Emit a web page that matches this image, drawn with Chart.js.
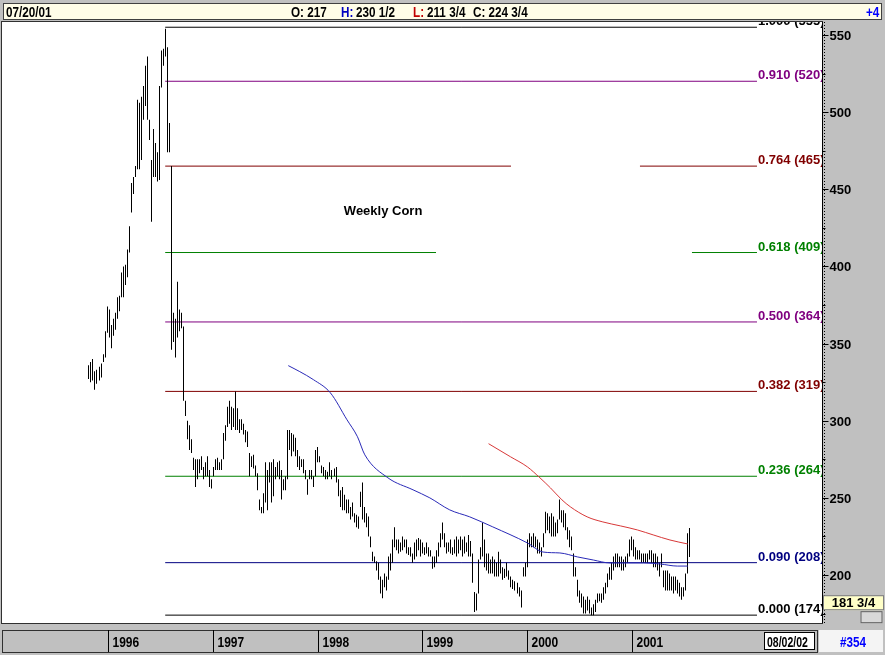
<!DOCTYPE html>
<html>
<head>
<meta charset="utf-8">
<script src="https://cdn.jsdelivr.net/npm/chart.js@4.4.0/dist/chart.umd.min.js"></script>
<style>
  body { margin: 0; background: #c0c0c0; }
  canvas { display: block; }
</style>
</head>
<body>
<canvas id="chart" width="885" height="655"></canvas>
<script>
// weekly corn bars, one per week from Fri 1995-10-27 to Fri 2001-07-20
const firstWeek = Date.UTC(1995, 9, 27);

const weekLows = [
  327,325,326,320,324,326,328,338,341,357,
  354,347,355,359,366,371,380,380,388,393,
  409,435,447,458,463,463,469,495,504,495,
  482,429,458,458,455,456,516,530,536,474,
  474,346,351,341,354,358,360,313,303,
  288,281,279,268,257,262,266,268,262,264,
  264,257,256,264,268,268,268,268,275,287,
  296,298,294,296,294,294,292,294,291,286,
  283,264,270,269,264,255,242,240,240,247,
  242,260,247,251,262,264,262,249,255,255,
  262,281,277,280,277,270,268,270,266,262,
  252,262,262,257,264,273,273,266,264,262,
  262,264,262,264,260,251,244,242,242,240,
  240,236,238,234,231,230,244,236,234,231,
  225,218,209,208,203,197,188,185,192,190,
  197,203,208,218,216,214,215,216,218,214,
  213,212,208,210,212,216,212,214,213,214,
  212,212,204,205,208,212,218,223,218,214,
  215,214,213,214,212,214,216,212,214,215,
  212,212,195,176,177,188,210,212,205,203,
  201,201,201,199,199,199,201,197,198,199,
  197,192,191,190,188,186,179,199,199,205,
  218,218,218,218,214,214,212,218,227,229,
  227,225,225,225,227,236,234,231,229,223,
  218,216,199,199,186,182,179,175,175,177,
  175,174,174,176,182,183,182,184,188,192,
  197,197,203,205,205,205,203,203,205,208,
  212,216,212,210,210,210,208,208,208,208,
  210,208,205,205,203,199,205,192,190,190,
  190,190,188,190,188,186,184,186,190,201,
  211.75
];

const weekHighs = [
  336,338,340,332,333,335,337,343,358,374,
  372,362,366,370,380,381,396,400,401,411,
  426,454,458,465,508,506,510,517,530,536,
  495,469,489,480,474,517,540,541,554,542,
  493,465,370,366,390,372,370,361,313,
  300,297,288,276,275,275,275,277,270,273,
  277,268,262,270,275,276,273,275,292,297,
  309,313,309,308,319,308,301,301,298,294,
  293,279,277,278,271,266,249,244,253,273,
  268,273,273,275,270,273,274,268,262,264,
  294,294,292,291,289,281,277,275,275,268,
  262,268,268,264,281,283,277,271,270,268,
  267,273,268,269,270,262,255,257,252,249,
  249,244,247,240,239,238,254,260,244,240,
  238,225,215,212,209,208,199,197,201,199,
  212,214,223,231,223,223,221,225,223,223,
  218,218,214,221,223,224,223,221,218,221,
  218,216,212,212,216,221,227,234,227,221,
  221,223,218,223,225,223,225,223,225,221,
  226,222,214,189,188,210,218,234,223,214,
  214,210,212,210,208,215,210,205,204,208,
  203,199,197,196,195,192,190,205,208,223,
  227,225,227,225,223,221,218,227,241,240,
  238,240,238,234,236,249,242,242,240,231,
  229,225,214,205,197,190,188,186,184,186,
  184,179,181,184,188,188,188,192,195,201,
  205,208,212,214,214,212,212,210,212,214,
  223,225,223,218,216,216,214,214,214,214,
  216,216,214,214,212,208,214,203,203,203,
  201,199,199,199,197,195,192,192,201,227,
  230.5
];

// moving averages (decimal year, price)
const blueYears  = [1997.72,1997.83,1997.96,1998.12,1998.28,1998.38,1998.45,1998.67,1998.91,1999.07,1999.26,1999.45,1999.67,2000.00,2000.15,2000.31,2000.48,2000.63,2000.79,2000.95,2001.11,2001.27,2001.43,2001.53];
const blueValues = [335.7,331.8,326.6,318.2,300.6,289.6,277.9,263.0,255.2,250.0,242.2,237.7,231.2,220.8,214.9,214.3,211.7,209.7,207.8,207.8,207.8,207.1,205.8,205.8];
const redYears   = [1999.63,1999.84,2000.00,2000.12,2000.22,2000.33,2000.41,2000.57,2000.72,2000.89,2001.05,2001.20,2001.36,2001.53];
const redValues  = [285.1,276.6,270.1,263.0,256.5,248.7,244.2,237.7,234.4,231.8,229.2,226.0,222.7,220.1];

// fibonacci retracement levels
const fibRatios = ['1.000','0.910','0.764','0.618','0.500','0.382','0.236','0.090','0.000'];
const fibPrices = [555,520,465,409,364,319,264,208,174];
const fibColors = ['#000000','#800080','#800000','#008000','#800080','#800000','#008000','#000080','#000000'];
const fibEnd = 2002.19;
const fibGaps = { 2: [1999.844, 2001.074], 3: [1999.129, 2001.570] };

const yearTicks = [1996, 1997, 1998, 1999, 2000, 2001];
const priceTicks = [200, 250, 300, 350, 400, 450, 500, 550];
const chartTitle = 'Weekly Corn';
const header = { date: '07/20/01', open: '217', high: '230 1/2', low: '211 3/4', close: '224 3/4', change: '+4' };
const cursorPrice = 181.75;
const cursorLabel = '181 3/4';
const footerDate = '08/02/02';
const footerCount = '#354';

function weekYear(i) {
  const t = firstWeek + i * 7 * 864e5;
  const yr = new Date(t).getUTCFullYear();
  const y0 = Date.UTC(yr, 0, 1), y1 = Date.UTC(yr + 1, 0, 1);
  return yr + (t - y0) / (y1 - y0);
}

const bars = weekLows.map((lo, i) => ({ x: weekYear(i), y: [lo, weekHighs[i]] }));
const peakIndex = weekHighs.indexOf(Math.max(...weekHighs));
const fibStart = weekYear(peakIndex);

const fibSets = fibPrices.map((p, i) => {
  let pts = [{ x: fibStart, y: p }, { x: fibEnd, y: p }];
  if (fibGaps[i]) {
    const [g0, g1] = fibGaps[i];
    pts = [{ x: fibStart, y: p }, { x: g0, y: p }, { x: (g0 + g1) / 2, y: null }, { x: g1, y: p }, { x: fibEnd, y: p }];
  }
  return { type: 'line', data: pts, borderColor: fibColors[i], borderWidth: 1, pointRadius: 0, order: 3, spanGaps: false };
});

const sans = '"Liberation Sans", Arial, sans-serif';

// condensed text: squeeze a normal face horizontally
function narrowText(ctx, text, x, y, squeeze) {
  ctx.save();
  ctx.translate(x, y);
  ctx.scale(squeeze, 1);
  ctx.fillText(text, 0, 0);
  ctx.restore();
}

const chrome = {
  id: 'chrome',
  beforeDraw(chart) {
    const { ctx, chartArea: a } = chart;
    ctx.save();
    ctx.fillStyle = '#c0c0c0';
    ctx.fillRect(0, 0, chart.width, chart.height);
    ctx.fillStyle = '#ffffff';
    ctx.fillRect(a.left, a.top, a.right - a.left, a.bottom - a.top);
    ctx.restore();
  },
  beforeDatasetsDraw(chart) {
    // snap the 1px price bars onto whole pixels so they stay crisp
    chart.getDatasetMeta(0).data.forEach(el => { el.x = Math.floor(el.x) + 0.5; });
  },
  afterDatasetsDraw(chart) {
    const { ctx, chartArea: a, scales: { x, y } } = chart;
    ctx.save();
    ctx.beginPath();
    ctx.rect(a.left, a.top, a.right - a.left, a.bottom - a.top);
    ctx.clip();
    ctx.font = 'bold 13px ' + sans;
    ctx.textBaseline = 'alphabetic';
    fibRatios.forEach((r, i) => {
      ctx.fillStyle = fibColors[i];
      ctx.fillText(r + ' (' + fibPrices[i] + ')', x.getPixelForValue(fibEnd) + 1, y.getPixelForValue(fibPrices[i]) - 2);
    });
    ctx.fillStyle = '#000';
    ctx.textBaseline = 'middle';
    ctx.fillText(chartTitle, x.getPixelForValue(1998.25), y.getPixelForValue(435.5));
    ctx.restore();

    ctx.save();
    // plot frame
    ctx.strokeStyle = '#303030';
    ctx.lineWidth = 1;
    ctx.strokeRect(a.left - 0.5, a.top - 0.5, a.right - a.left + 1, a.bottom - a.top + 1);

    // header bar
    ctx.fillStyle = '#fffde8';
    ctx.fillRect(3, 3, 879, 17);
    ctx.strokeStyle = '#404040';
    ctx.strokeRect(3.5, 3.5, 878, 16);
    ctx.font = 'bold 15px ' + sans;
    ctx.textBaseline = 'alphabetic';
    const hy = 17, sq = 0.78;
    ctx.fillStyle = '#000';
    narrowText(ctx, header.date, 6, hy, sq);
    narrowText(ctx, 'O: ' + header.open, 291, hy, sq);
    ctx.fillStyle = '#0000c0'; narrowText(ctx, 'H:', 341, hy, sq);
    ctx.fillStyle = '#000'; narrowText(ctx, header.high, 356, hy, sq);
    ctx.fillStyle = '#c00000'; narrowText(ctx, 'L:', 413, hy, sq);
    ctx.fillStyle = '#000'; narrowText(ctx, header.low, 427, hy, sq);
    narrowText(ctx, 'C: ' + header.close, 473, hy, sq);
    ctx.fillStyle = '#0000ff'; narrowText(ctx, header.change, 866, hy, sq);

    // right price axis
    const px = a.right + 0.5;
    ctx.strokeStyle = '#000';
    ctx.beginPath(); ctx.moveTo(px, a.top); ctx.lineTo(px, a.bottom); ctx.stroke();
    ctx.setLineDash([1, 2]);
    ctx.beginPath(); ctx.moveTo(px + 2, a.top); ctx.lineTo(px + 2, a.bottom); ctx.stroke();
    ctx.setLineDash([]);
    ctx.font = 'bold 13px ' + sans;
    ctx.textBaseline = 'middle';
    ctx.fillStyle = '#000';
    for (let v = 175; v <= 550; v += 25) {
      const py = Math.round(y.getPixelForValue(v)) + 0.5;
      const major = priceTicks.includes(v);
      ctx.beginPath(); ctx.moveTo(px, py); ctx.lineTo(px + (major ? 6 : 3), py); ctx.stroke();
      if (major) ctx.fillText(String(v), px + 7, py + 1);
    }
    // cursor price box
    const cy = y.getPixelForValue(cursorPrice);
    ctx.fillStyle = '#ffffc8';
    ctx.fillRect(px + 1, cy - 7, 60, 14);
    ctx.strokeStyle = '#808080';
    ctx.strokeRect(px + 1, cy - 7.5, 60, 14);
    ctx.fillStyle = '#000';
    ctx.textAlign = 'center';
    ctx.fillText(cursorLabel, px + 31, cy);
    ctx.textAlign = 'left';
    ctx.fillStyle = '#d8d8d8';
    ctx.fillRect(px + 38, cy + 8, 22, 12);
    ctx.strokeStyle = '#606060';
    ctx.strokeRect(px + 38.5, cy + 8.5, 21, 11);

    // bottom date axis
    const by = 630, bh = 22;
    ctx.fillStyle = '#c0c0c0';
    ctx.fillRect(2, by, 815, bh);
    ctx.strokeStyle = '#303030';
    ctx.strokeRect(2.5, by + 0.5, 815, bh);
    ctx.font = 'bold 15px ' + sans;
    ctx.textBaseline = 'alphabetic';
    yearTicks.forEach(yr => {
      const tx = Math.round(x.getPixelForValue(yr)) + 0.5;
      ctx.strokeStyle = '#000';
      ctx.beginPath(); ctx.moveTo(tx, by); ctx.lineTo(tx, by + bh); ctx.stroke();
      ctx.fillStyle = '#000';
      narrowText(ctx, String(yr), tx + 4, by + 17, 0.8);
    });
    ctx.fillStyle = '#ffffff';
    ctx.fillRect(764, by + 2, 51, 18);
    ctx.strokeStyle = '#000';
    ctx.strokeRect(764.5, by + 2.5, 50, 17);
    ctx.fillStyle = '#000';
    narrowText(ctx, footerDate, 767, by + 17, 0.7);
    ctx.fillStyle = '#f4f4f4';
    ctx.fillRect(819, by, 64, bh);
    ctx.fillStyle = '#0000ff';
    narrowText(ctx, footerCount, 840, by + 17, 0.78);
    ctx.restore();
  }
};

new Chart(document.getElementById('chart'), {
  type: 'bar',
  data: {
    datasets: [
      {
        type: 'bar',
        data: bars,
        backgroundColor: '#000000',
        barThickness: 1,
        inflateAmount: 0,
        grouped: false,
        borderWidth: 0,
        order: 2
      },
      {
        type: 'line',
        data: blueYears.map((t, i) => ({ x: t, y: blueValues[i] })),
        borderColor: '#2a2ab8',
        borderWidth: 1,
        pointRadius: 0,
        cubicInterpolationMode: 'monotone',
        order: 1
      },
      {
        type: 'line',
        data: redYears.map((t, i) => ({ x: t, y: redValues[i] })),
        borderColor: '#d83838',
        borderWidth: 1,
        pointRadius: 0,
        cubicInterpolationMode: 'monotone',
        order: 1
      },
      ...fibSets
    ]
  },
  options: {
    responsive: false,
    animation: false,
    layout: { padding: { left: 2, right: 63, top: 22, bottom: 32 } },
    plugins: { legend: { display: false }, tooltip: { enabled: false } },
    scales: {
      x: { type: 'linear', offset: false, min: 1994.99, max: 2002.81, display: false },
      y: { type: 'linear', min: 168.9, max: 558.4, display: false }
    }
  },
  plugins: [chrome]
});
</script>
</body>
</html>
